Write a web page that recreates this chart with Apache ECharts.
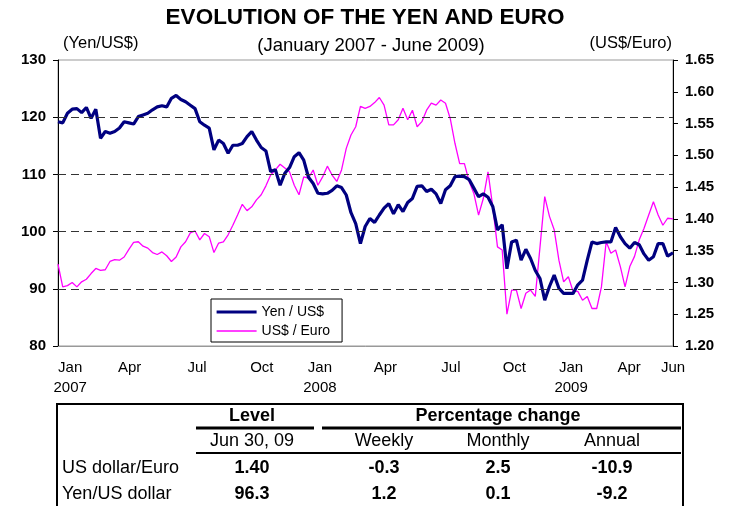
<!DOCTYPE html>
<html><head><meta charset="utf-8">
<script src="https://cdn.jsdelivr.net/npm/echarts@6/dist/echarts.min.js"></script>
<style>html,body{margin:0;padding:0;background:#fff}#c{width:730px;height:506px}</style>
</head><body><div id="c"></div>
<script>
// Weekly samples starting 2007-01-01, last one 2009-06-30
const startDate = '2007-01-01';
const endDate = '2009-06-30';
const yenUsd = [
119.2,119.0,120.7,121.4,121.5,120.8,121.7,119.8,121.4,116.3,117.5,117.2,117.5,118.1,119.2,119.0,118.8,120.1,120.4,120.7,121.3,121.8,122.0,121.8,123.3,123.8,123.1,122.7,122.1,121.5,119.2,118.6,118.1,114.3,
116.0,115.4,113.7,115.1,115.1,115.4,116.6,117.5,116.0,114.7,114.1,110.5,110.8,108.1,110.2,111.2,113.1,113.8,112.5,109.5,108.4,106.7,106.6,106.7,107.2,108.0,107.7,106.4,103.3,101.4,97.9,100.9,
102.3,101.6,102.9,104.1,104.9,103.1,104.7,103.5,105.1,105.8,107.9,108.0,107.0,107.4,106.6,104.9,107.3,108.0,109.6,109.7,109.6,109.1,107.6,106.1,106.6,106.0,104.4,100.3,101.2,93.5,98.2,98.5,95.0,
96.9,95.3,93.2,91.8,88.0,90.4,92.4,90.1,89.2,89.2,89.2,90.7,91.5,95.0,98.2,97.9,98.1,98.2,98.2,100.7,99.1,97.9,97.1,98.1,97.7,96.1,95.0,95.6,97.9,97.9,95.7,96.3
];
const usdEuro = [
1.329,1.293,1.295,1.300,1.293,1.301,1.305,1.314,1.322,1.319,1.320,1.333,1.336,1.335,1.340,1.352,1.363,1.364,1.357,1.354,1.347,1.344,1.348,1.342,1.333,1.340,1.356,1.364,1.378,1.381,1.367,1.377,1.372,1.347,
1.362,1.364,1.375,1.390,1.406,1.423,1.413,1.419,1.430,1.438,1.452,1.469,1.477,1.486,1.480,1.474,1.453,1.438,1.466,1.464,1.477,1.453,1.466,1.483,1.469,1.459,1.477,1.511,1.532,1.545,1.577,1.574,
1.577,1.583,1.591,1.579,1.548,1.548,1.556,1.574,1.556,1.571,1.545,1.553,1.571,1.582,1.579,1.587,1.582,1.558,1.519,1.487,1.487,1.459,1.440,1.406,1.432,1.474,1.419,1.356,1.351,1.250,1.288,1.288,1.259,
1.283,1.288,1.278,1.356,1.435,1.404,1.383,1.335,1.301,1.309,1.286,1.286,1.272,1.278,1.259,1.259,1.293,1.364,1.346,1.351,1.325,1.293,1.325,1.341,1.367,1.385,1.406,1.427,1.406,1.390,1.401,1.400
];
const xTickDates = ['2007-01-19','2007-04-17','2007-07-26','2007-10-30','2008-01-24','2008-04-30','2008-08-05','2008-11-07','2009-01-30','2009-04-26','2009-06-30'];
const xTickLabels = ['Jan\n2007','Apr','Jul','Oct','Jan\n2008','Apr','Jul','Oct','Jan\n2009','Apr','Jun'];
const gridLevels = [90,100,110,120];
const seriesNames = ['Yen / US$','US$ / Euro'];
const titleText = 'EVOLUTION OF THE YEN AND EURO';
const subtitleText = '(January 2007 - June 2009)';
const leftAxisName = '(Yen/US$)';
const rightAxisName = '(US$/Euro)';
const tableHead1 = ['Level','Percentage change'];
const tableHead2 = ['Jun 30, 09','Weekly','Monthly','Annual'];
const rowLabels = ['US dollar/Euro','Yen/US dollar'];
const rowValues = [['1.40','-0.3','2.5','-10.9'],['96.3','1.2','0.1','-9.2']];

const DAY = 86400000;
const t0 = Date.parse(startDate + 'T00:00:00Z');
const dayOf = (s) => Math.round((Date.parse(s + 'T00:00:00Z') - t0) / DAY);
const endDay = dayOf(endDate);
const days = yenUsd.map((_, i) => i === yenUsd.length - 1 ? endDay : i * 7);
const tickDays = xTickDates.map(dayOf);
const FONT = '"Liberation Sans", Arial, sans-serif';

const chart = echarts.init(document.getElementById('c'), null, {renderer: 'canvas'});

const colX = [252, 384, 498, 612];
const graphics = [
  {type:'text', x:365, y:18, style:{text:titleText, font:'bold 22.5px ' + FONT, fill:'#000', textAlign:'center', textVerticalAlign:'middle'}},
  {type:'text', x:371, y:46, style:{text:subtitleText, font:'18.5px ' + FONT, fill:'#000', textAlign:'center', textVerticalAlign:'middle'}},
  {type:'text', x:63, y:43, style:{text:leftAxisName, font:'16.5px ' + FONT, fill:'#000', textAlign:'left', textVerticalAlign:'middle'}},
  {type:'text', x:672, y:43, style:{text:rightAxisName, font:'16.5px ' + FONT, fill:'#000', textAlign:'right', textVerticalAlign:'middle'}},
  {type:'rect', shape:{x:57, y:404, width:626, height:140}, style:{fill:'none', stroke:'#000', lineWidth:2}},
  {type:'line', shape:{x1:196, y1:428, x2:314, y2:428}, style:{stroke:'#000', lineWidth:3}},
  {type:'line', shape:{x1:322, y1:428, x2:681, y2:428}, style:{stroke:'#000', lineWidth:3}},
  {type:'line', shape:{x1:196, y1:453, x2:681, y2:453}, style:{stroke:'#000', lineWidth:2}},
  {type:'text', x:252, y:416, style:{text:tableHead1[0], font:'bold 18px ' + FONT, fill:'#000', textAlign:'center', textVerticalAlign:'middle'}},
  {type:'text', x:498, y:416, style:{text:tableHead1[1], font:'bold 18px ' + FONT, fill:'#000', textAlign:'center', textVerticalAlign:'middle'}}
];
tableHead2.forEach((t, i) => graphics.push({type:'text', x:colX[i], y:441, style:{text:t, font:'18px ' + FONT, fill:'#000', textAlign:'center', textVerticalAlign:'middle'}}));
rowLabels.forEach((lab, r) => {
  const y = 468 + r * 26;
  graphics.push({type:'text', x:62, y:y, style:{text:lab, font:'18px ' + FONT, fill:'#000', textAlign:'left', textVerticalAlign:'middle'}});
  rowValues[r].forEach((v, i) => graphics.push({type:'text', x:colX[i], y:y, style:{text:v, font:'bold 18px ' + FONT, fill:'#000', textAlign:'center', textVerticalAlign:'middle'}}));
});

const option = {
  animation: false,
  backgroundColor: '#fff',
  textStyle: {fontFamily: FONT},
  grid: {left:58, right:57, top:60, bottom:160, show:true, borderColor:'#999', borderWidth:1, backgroundColor:'transparent'},
  legend: {
    data: [
      {name: seriesNames[0], lineStyle: {width: 3.2}},
      {name: seriesNames[1], lineStyle: {width: 1.5}}
    ],
    orient: 'vertical', left: 211, top: 299,
    itemWidth: 40, itemHeight: 14, itemGap: 5,
    padding: [6, 12, 4, 4],
    borderColor: '#000', borderWidth: 1, backgroundColor: '#fff',
    itemStyle: {opacity: 0},
    textStyle: {fontSize: 14, color: '#000', fontFamily: FONT}
  },
  xAxis: {
    type: 'value', min: 0, max: endDay,
    axisLine: {show: true, lineStyle: {color: '#999'}},
    axisTick: {show: false},
    splitLine: {show: false},
    axisLabel: {
      customValues: tickDays,
      formatter: (v) => { const k = tickDays.indexOf(v); return k >= 0 ? xTickLabels[k] : ''; },
      fontSize: 15, color: '#000', margin: 12, lineHeight: 20, fontFamily: FONT
    }
  },
  yAxis: [
    {type:'value', min:80, max:130, interval:10, position:'left',
     axisLine:{show:true, lineStyle:{color:'#000'}},
     axisTick:{show:true, length:5, inside:false, lineStyle:{color:'#000'}},
     splitLine:{show:false},
     axisLabel:{fontSize:15, fontWeight:'bold', color:'#000', margin:12, fontFamily:FONT}},
    {type:'value', min:1.2, max:1.65, interval:0.05, position:'right',
     axisLine:{show:true, lineStyle:{color:'#000'}},
     axisTick:{show:true, length:5, inside:false, lineStyle:{color:'#000'}},
     splitLine:{show:false},
     axisLabel:{fontSize:15, fontWeight:'bold', color:'#000', margin:12, fontFamily:FONT, formatter:(v)=>v.toFixed(2)}}
  ],
  series: [
    {name: seriesNames[1], type:'line', yAxisIndex:1, showSymbol:false, symbol:'none',
     data: days.map((d, i) => [d, usdEuro[i]]),
     lineStyle:{color:'#FF00FF', width:1.3}, itemStyle:{color:'#FF00FF'}, z:2},
    {name: seriesNames[0], type:'line', yAxisIndex:0, showSymbol:false, symbol:'none',
     data: days.map((d, i) => [d, yenUsd[i]]),
     lineStyle:{color:'#000080', width:3.2}, itemStyle:{color:'#000080'}, z:3,
     markLine:{silent:true, symbol:['none','none'], label:{show:false}, animation:false,
       lineStyle:{type:[8,5], color:'#333', width:1},
       data: gridLevels.map(v => ({yAxis: v}))}}
  ],
  graphic: graphics
};
chart.setOption(option);
</script></body></html>
